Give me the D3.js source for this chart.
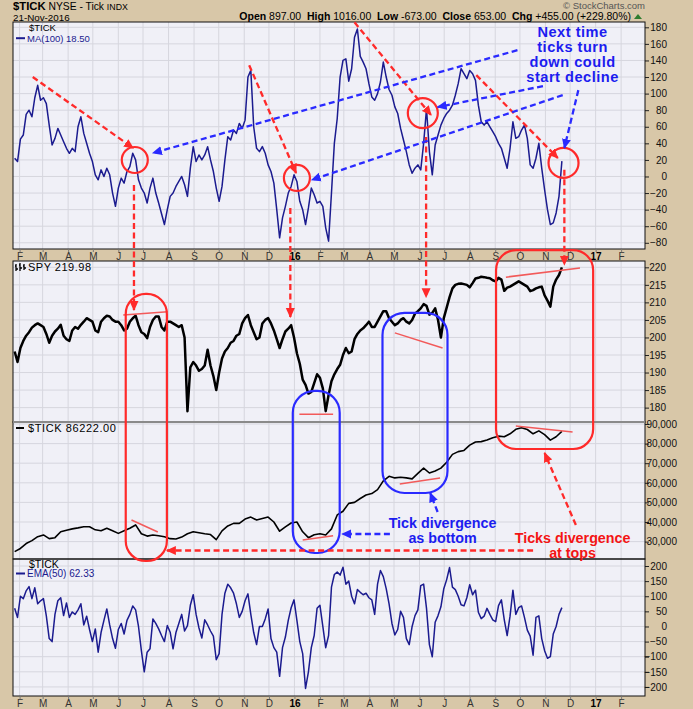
<!DOCTYPE html>
<html><head><meta charset="utf-8">
<script src="https://cdn.jsdelivr.net/npm/d3@7/dist/d3.min.js"></script>
<style>
html,body{margin:0;padding:0;background:#d8c7a8;}
svg{display:block;font-family:"Liberation Sans",Arial,Helvetica,sans-serif;}
</style></head><body>
<svg id="chart" width="693" height="709"></svg>
<script>
// ---------------- DATA ----------------
const seriesStart = "2015-01-26";      // first sample; semi-weekly (3.5 d) and weekly samples follow
// $TICK MA(100), semi-weekly samples
const tickMaValues = [22,18,45,50,75,80,72,95,110,92, 95,88,62,38,46,58,50,42,34,28,
 34,30,60,72,52,40,28,18,2,-4, 8,0,10,2,-20,-36,-14,-2,-8,6,
 12,28,20,-4,-14,-20,-32,-14,-2,-20, -32,-45,-58,-40,-24,-20,-12,-6,0,-10,
 -24,10,36,18,26,20,26,36,20,6, -14,-30,-12,20,48,44,56,52,64,58,
 68,120,128,60,34,30,36,28,14,6, -8,-40,-74,-50,-36,-20,-12,2,-6,-30,
 -40,-58,-38,-14,-22,-32,-30,-36,-62,-78, -20,40,70,120,140,142,115,130,168,178,
 145,138,130,112,96,92,100,114,138,120, 105,98,84,76,58,44,30,14,4,10,
 14,8,40,82,30,2,38,50,62,70, 76,80,86,98,112,130,124,118,128,124,
 116,86,66,62,66,60,54,48,40,34, 22,10,34,66,46,48,56,62,46,14,
 10,22,40,10,-16,-40,-58,-56,-44,-24, 18.5];
// $TICK EMA(50), semi-weekly samples
const tickEmaValues = [60,30,100,92,118,132,92,128,75,85, 92,35,-40,-50,40,85,95,36,78,30,
 48,40,55,75,5,34,-10,-50,-8,-85, -20,20,58,5,-40,-72,-10,10,-25,20,
 40,68,55,0,-80,-150,-85,-74,25,10, -8,-30,-50,3,-19,-74,-20,10,40,-15,
 3,70,105,40,-5,-38,22,5,-15,-32, -110,-90,40,110,140,128,110,75,30,50,
 85,108,40,-20,-60,0,0,25,58,-40, -70,-85,-165,-70,-35,20,62,88,20,-50,
 -90,-205,-150,-70,-30,60,70,0,-70,-30, 130,172,180,170,196,140,150,100,75,122,
 113,105,110,95,88,40,140,185,165,125, 75,10,-28,-10,50,30,-40,-60,0,36,
 55,135,140,60,-60,-100,14,36,65,125, 155,195,130,122,100,72,68,95,138,105,
 120,47,26,34,60,40,22,16,69,88, 22,-30,34,120,40,62,68,30,-12,-32,
 -95,30,35,-40,-80,-105,-100,-25,0,40, 62.33];
// SPY, semi-weekly samples
const spyValues = [196,193,197,199,200.5,201.5,202.8,203.5,204,203.5,
 203,201,198.5,200.5,201.7,202.5,203.6,200.5,199.5,199,
 202,203,202.5,203.6,204.5,205.5,205,204.5,202,201.5,
 204.5,205.5,206.2,206,205,204.5,204.5,203.5,202,202.5,
 204.5,205.5,206.2,203.5,201.5,201,199.8,203,205,206,
 206,203,202,204.5,204.5,204,203.5,203,203.5,200,
 179,191.5,193,192,190.5,191,192,196.5,192,189,
 185,190,194,196,197,198.5,199,200.5,201,204,
 205.5,206.4,203.5,201.5,199.5,200,204,205,205.5,204,
 202,199.5,197,199.5,201.7,202.5,203.5,200,195.5,192.5,
 188,186.5,184,184.5,187,189.5,188.5,185.5,179,183.6,
 187.5,189.5,191,192.2,195,197,195.5,196,199.5,201,
 202,202.6,203.5,204.5,203,203,204.5,206,207.5,207.5,
 205.5,204.5,203.5,204,205,205.5,204.5,204,205,206.8,
 207.5,208.3,209.5,209,206.5,207,208.3,205,200,205.5,
 208.5,211.5,214,215,215.3,215.4,215.2,215,214.3,215.5,
 216.8,217,217.3,217.2,217,216.9,216.3,216,217,216.5,
 213.3,214.2,214.5,215,215.5,216,215.5,215,214.5,213.2,
 213.5,214,214.3,214.5,212,210.5,208.8,214.5,216.5,217.8,
 219.98];
// cumulative $TICK, weekly samples
const cumTickValues = [24900,26500,29000,30500,32500,33400,31500,32000,35000,35800,
 36500,37000,37600,37600,36000,35500,36800,35500,34200,35500,
 36800,38500,34000,32800,33400,33000,32500,31500,31300,32300,
 34000,35000,34500,34000,33600,31000,35500,38000,39300,39300,
 41500,42500,41000,41800,42500,40000,35300,37500,39500,40000,
 35000,32000,33500,34000,33400,36500,43600,45500,49500,50000,
 52000,53800,54500,56500,61000,63300,62500,62800,62500,62000,
 64800,67500,65000,66000,67500,70500,74500,75900,76500,79200,
 80800,81000,81800,83000,83800,83500,85000,87300,88100,87200,
 85000,86500,84600,81800,83500,86222];
// tick labels
const tickMaTicks = [-80,-60,-40,-20,0,20,40,60,80,100,120,140,160,180];
const spyTicks = [180,185,190,195,200,205,210,215,220];
const cumTicks = [30000,40000,50000,60000,70000,80000,90000];
const emaTicks = [-200,-150,-100,-50,0,50,100,150,200];
const xDomain = ["2015-01-24","2017-03-02"];

// ---------------- ANNOTATIONS (date, value, panel) ----------------
const redArrows = [
 [["2015-02-17",120,0],["2015-06-19",34.3,0]],
 [["2015-11-07",134.3,0],["2016-01-03",4.2,0]],
 [["2016-03-14",186,0],["2016-06-15",74.1,0]],
 [["2016-08-09",122.3,0],["2016-11-16",22.3,0]],
 [["2015-06-20",-10.2,0],["2015-06-20",207.8,1]],
 [["2015-12-27",-38,0],["2015-12-27",205.8,1]],
 [["2016-06-09",47.6,0],["2016-06-09",211.5,1]],
 [["2016-11-24",8,0],["2016-11-24",220.7,1]],
 [["2016-10-17",25460,2],["2015-07-30",25460,2]],
 [["2016-12-08",38470,2],["2016-10-31",75200,2]]
];
const blueArrows = [
 [["2016-09-28",152.4,0],["2015-07-13",28.3,0]],
 [["2016-11-22",98.2,0],["2016-01-22",-4.2,0]],
 [["2016-10-29",109,0],["2016-06-23",83.7,0]],
 [["2016-12-11",104.2,0],["2016-11-24",34.3,0]],
 [["2016-04-26",33880,2],["2016-02-28",33880,2]],
 [["2016-06-23",45100,2],["2016-06-14",54800,2]]
];
const circles = [["2015-06-21",19.9,0],["2016-01-04",-1.8,0],["2016-06-05",76.5,0],["2016-11-23",16.3,0]];
const circleR = [13,13,15,15];
const boxes = [
 {c:"red", a:["2015-06-10",212.4,1], b:["2015-07-30",20100,2]},
 {c:"blue",a:["2015-12-30",184.8,1], b:["2016-02-25",24180,2]},
 {c:"blue",a:["2016-04-17",207,1],   b:["2016-07-05",54800,2]},
 {c:"red", a:["2016-09-02",224.9,1], b:["2016-12-29",77250,2]}
];
const boxR = [20,22,22,20];
const pinkLines = [
 [["2015-06-07",206.4,1],["2015-07-31",207.3,1]],
 [["2016-01-07",178.1,1],["2016-02-17",178.1,1]],
 [["2016-05-02",201.3,1],["2016-06-29",197.0,1]],
 [["2016-09-14",217.2,1],["2016-12-13",219.8,1]],
 [["2015-06-17",41020,2],["2015-07-19",34900,2]],
 [["2016-01-11",30820,2],["2016-02-17",33010,2]],
 [["2016-05-08",59390,2],["2016-06-26",62450,2]],
 [["2016-09-26",88980,2],["2016-12-04",85920,2]]
];
const notes = [
 {c:"blue", at:["2016-12-04",168.7,0], lines:["Next time","ticks turn","down could","start decline"]},
 {c:"blue", at:["2016-06-29",36940,2], lines:["Tick divergence","as bottom"]},
 {c:"red",  at:["2016-12-04",29130,2], lines:["Ticks divergence","at tops"]}
];

// ---------------- RENDER ----------------
const COL = {bg:"#d8c7a8", plot:"#f0f0f7", grid:"#d6d6de", navy:"#1b1b8f",
  red:"#ff2a2a", blue:"#2a2aff", pink:"#f25a5a", textBlue:"#1c1cf0", textRed:"#f41414"};
const parse = d3.utcParse("%Y-%m-%d");
const start = parse(seriesStart);
const semiDates = tickMaValues.map((_,i)=>d3.utcHour.offset(start,i*84));
const weekDates = cumTickValues.map((_,i)=>d3.utcDay.offset(start,i*7));
const L=13, R=645;
const x = d3.scaleUtc().domain(xDomain.map(parse)).range([L,R]);
const panels = [
 {top:22, bottom:249, dom:[-87.5,186.4], ticks:tickMaTicks, lab:667},
 {top:261,bottom:422, dom:[175.9,221.8], ticks:spyTicks, lab:666},
 {top:422,bottom:559, dom:[21120,91020], ticks:cumTicks, lab:677},
 {top:559,bottom:696, dom:[-230,223.2], ticks:emaTicks, lab:667}
];
panels.forEach(p=>p.y=d3.scaleLinear().domain(p.dom).range([p.bottom,p.top]));
const P = a => [x(parse(a[0])), panels[a[2]].y(a[1])];

const svg = d3.select("#chart");
svg.append("rect").attr("width",693).attr("height",709).attr("fill",COL.bg);
const defs = svg.append("defs");
[["red",COL.red],["blue",COL.blue]].forEach(([n,c])=>{
  defs.append("marker").attr("id","ah-"+n).attr("viewBox","0 0 10 10")
    .attr("refX",9).attr("refY",5).attr("markerWidth",10).attr("markerHeight",10)
    .attr("markerUnits","userSpaceOnUse").attr("orient","auto")
    .append("path").attr("d","M0,0.5 L10,5 L0,9.5 Z").attr("fill",c);
});

const months = d3.utcMonth.range(x.domain()[0], x.domain()[1]).filter(d=>x(d)<R-1);
const monthFmt = d => d.getUTCMonth()===0 ? d3.utcFormat("%y")(d) : d3.utcFormat("%b")(d)[0];

panels.forEach((p,i)=>{
  defs.append("clipPath").attr("id","clip"+i).append("rect")
    .attr("x",L).attr("y",p.top).attr("width",R-L).attr("height",p.bottom-p.top);
  svg.append("rect").attr("x",L).attr("y",p.top).attr("width",R-L).attr("height",p.bottom-p.top).attr("fill",COL.plot);
  const g = svg.append("g").attr("clip-path",`url(#clip${i})`);
  g.selectAll("line.h").data(p.ticks).join("line").attr("class","h")
    .attr("x1",L).attr("x2",R).attr("y1",d=>p.y(d)).attr("y2",d=>p.y(d))
    .attr("stroke",COL.grid).attr("stroke-width",1);
  g.selectAll("line.v").data(months).join("line").attr("class","v")
    .attr("x1",d=>x(d)).attr("x2",d=>x(d)).attr("y1",p.top).attr("y2",p.bottom)
    .attr("stroke",COL.grid).attr("stroke-width",1);
  p.g = g;
  const ax = svg.append("g").attr("transform",`translate(${R},0)`)
    .call(d3.axisRight(p.y).tickValues(p.ticks).tickSize(4).tickPadding(3));
  ax.select(".domain").remove();
  ax.selectAll("line").attr("stroke","#222");
  ax.selectAll("text").attr("x",p.lab-R).attr("text-anchor","end")
    .attr("font-size",10).attr("font-family","Liberation Sans, Arial, sans-serif").attr("fill","#111");
});

// series
const mkLine = (dates,vals,y) => d3.line().x((d,i)=>x(dates[i])).y(d=>y(d))(vals);
panels[0].g.append("path").attr("d",mkLine(semiDates,tickMaValues,panels[0].y))
  .attr("fill","none").attr("stroke",COL.navy).attr("stroke-width",1.5).attr("stroke-linejoin","round");
panels[1].g.append("path").attr("d",mkLine(semiDates,spyValues,panels[1].y))
  .attr("fill","none").attr("stroke","#000").attr("stroke-width",2.5).attr("stroke-linejoin","round");
panels[2].g.append("path").attr("d",mkLine(weekDates,cumTickValues,panels[2].y))
  .attr("fill","none").attr("stroke","#000").attr("stroke-width",1.6).attr("stroke-linejoin","round");
panels[3].g.append("path").attr("d",mkLine(semiDates,tickEmaValues,panels[3].y))
  .attr("fill","none").attr("stroke",COL.navy).attr("stroke-width",1.5).attr("stroke-linejoin","round");

// borders
panels.forEach(p=>{
  svg.append("rect").attr("x",L).attr("y",p.top).attr("width",R-L).attr("height",p.bottom-p.top)
    .attr("fill","none").attr("stroke","#111").attr("stroke-width",1);
});
svg.append("line").attr("x1",L).attr("x2",R).attr("y1",panels[2].top).attr("y2",panels[2].top)
  .attr("stroke","#8a8a8a").attr("stroke-width",2.2);

// month axes (band under panel 1 and at bottom)
[panels[0].bottom, panels[3].bottom].forEach(yb=>{
  const ax = svg.append("g").attr("transform",`translate(0,${yb})`)
    .call(d3.axisBottom(x).tickValues(months).tickFormat(monthFmt).tickSize(3).tickPadding(1));
  ax.select(".domain").remove();
  ax.selectAll("line").attr("stroke","#777");
  ax.selectAll("text").attr("font-size",10)
    .attr("font-family","Liberation Sans, Arial, sans-serif")
    .attr("font-weight",d=>d.getUTCMonth()===0?"bold":"normal")
    .attr("fill",d=>d.getUTCMonth()===0?"#000":"#333");
});

// header
const hdr = svg.append("text").attr("x",13).attr("y",10.4).attr("fill","#000");
hdr.append("tspan").attr("font-size",11.3).attr("font-weight","bold").text("$TICK");
hdr.append("tspan").attr("font-size",10.3).text(" NYSE - Tick ");
hdr.append("tspan").attr("font-size",8.8).text("INDX");
svg.append("text").attr("x",13).attr("y",20.6).attr("font-size",9.8).attr("fill","#000").text("21-Nov-2016");
const ohlc = svg.append("text").attr("x",631).attr("y",19.8).attr("text-anchor","end").attr("font-size",10.5).attr("fill","#000");
[["Open"," 897.00  "],["High"," 1016.00  "],["Low"," -673.00  "],["Close"," 653.00  "],["Chg"," +455.00 (+229.80%)"]]
 .forEach(([a,b])=>{ohlc.append("tspan").attr("font-weight","bold").text(a);ohlc.append("tspan").attr("xml:space","preserve").text(b);});
svg.append("path").attr("d","M634,19 L638,14 L642,19 Z").attr("fill","#2f7d2f");
svg.append("text").attr("x",645).attr("y",9.3).attr("text-anchor","end").attr("font-size",9.5).attr("fill","#555").text("© StockCharts.com");

// legends
svg.append("text").attr("x",29).attr("y",31.2).attr("font-size",9.5).attr("fill","#000").text("$TICK");
svg.append("line").attr("x1",16).attr("x2",25).attr("y1",38.2).attr("y2",38.2).attr("stroke",COL.navy).attr("stroke-width",2);
svg.append("text").attr("x",27).attr("y",41.9).attr("font-size",9.5).attr("fill",COL.navy).text("MA(100) 18.50");
svg.append("path").attr("d","M16,264 v7 M15,266 h1 M16,269 h2 M20,263 v8 M19,265 h1 M20,268 h2 M24,264 v6 M23,266 h1 M24,268 h2")
  .attr("stroke","#000").attr("stroke-width",1.3).attr("fill","none");
svg.append("text").attr("x",28).attr("y",271).attr("font-size",11).attr("letter-spacing",0.5).attr("fill","#000").text("SPY 219.98");
svg.append("line").attr("x1",16).attr("x2",24).attr("y1",428).attr("y2",428).attr("stroke","#000").attr("stroke-width",2);
svg.append("text").attr("x",28).attr("y",432).attr("font-size",11).attr("letter-spacing",0.6).attr("fill","#000").text("$TICK 86222.00");
svg.append("text").attr("x",29).attr("y",567.5).attr("font-size",10.5).attr("fill","#000").text("$TICK");
svg.append("line").attr("x1",16).attr("x2",25).attr("y1",573.5).attr("y2",573.5).attr("stroke",COL.navy).attr("stroke-width",2);
svg.append("text").attr("x",27).attr("y",577.3).attr("font-size",10).attr("fill",COL.navy).text("EMA(50) 62.33");

// annotations
const ann = svg.append("g");
pinkLines.forEach(([a,b])=>{
  const [x1,y1]=P(a),[x2,y2]=P(b);
  ann.append("line").attr("x1",x1).attr("y1",y1).attr("x2",x2).attr("y2",y2)
    .attr("stroke",COL.pink).attr("stroke-width",1.5);
});
boxes.forEach((b,i)=>{
  const [x1,y1]=P(b.a),[x2,y2]=P(b.b);
  ann.append("rect").attr("x",x1).attr("y",y1).attr("width",x2-x1).attr("height",y2-y1)
    .attr("rx",boxR[i]).attr("ry",boxR[i]).attr("fill","none")
    .attr("stroke",b.c==="red"?COL.red:COL.blue).attr("stroke-width",2.2);
});
circles.forEach((c,i)=>{
  const [cx,cy]=P(c);
  ann.append("circle").attr("cx",cx).attr("cy",cy).attr("r",circleR[i])
    .attr("fill","none").attr("stroke",COL.red).attr("stroke-width",2.2);
});
const drawArrows=(list,name,col)=>list.forEach(([a,b])=>{
  const [x1,y1]=P(a),[x2,y2]=P(b);
  ann.append("line").attr("x1",x1).attr("y1",y1).attr("x2",x2).attr("y2",y2)
    .attr("stroke",col).attr("stroke-width",2.3).attr("stroke-dasharray","6,3.5")
    .attr("marker-end",`url(#ah-${name})`);
});
drawArrows(redArrows,"red",COL.red);
drawArrows(blueArrows,"blue",COL.blue);
notes.forEach((n,i)=>{
  const [tx,ty]=P(n.at);
  const t=ann.append("text").attr("x",tx).attr("y",ty).attr("text-anchor","middle")
    .attr("font-weight","bold").attr("font-size",i===0?14.6:14.3)
    .attr("letter-spacing",i===0?0.5:0)
    .attr("fill",n.c==="red"?COL.textRed:COL.textBlue);
  n.lines.forEach((s,k)=>t.append("tspan").attr("x",tx).attr("dy",k===0?0:(i===0?15.1:14.6)).text(s));
});
</script>
</body></html>
